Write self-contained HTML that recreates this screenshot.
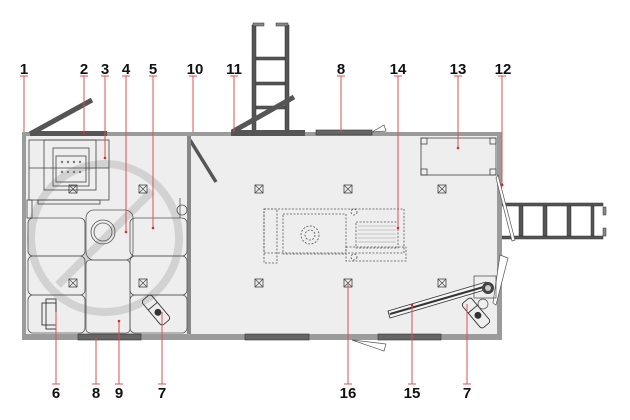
<!DOCTYPE html>
<html><head><meta charset="utf-8"><style>
html,body{margin:0;padding:0;background:#fff;}
svg{display:block}
text{font-family:"Liberation Sans",sans-serif;font-weight:bold;font-size:15px;fill:#111;text-anchor:middle}
</style></head><body>
<svg width="630" height="420" viewBox="0 0 630 420" xmlns="http://www.w3.org/2000/svg">
<defs>
<g id="bx"><rect x="-4" y="-4" width="8" height="8" fill="none" stroke="#444" stroke-width="0.8"/><path d="M-4-4L4 4M4-4L-4 4" stroke="#444" stroke-width="0.7"/></g>
</defs>
<g fill="#555" stroke="#333" stroke-width="0.5">
<rect x="252" y="25" width="4" height="107"/><rect x="285" y="25" width="4" height="107"/>
<rect x="256" y="57" width="29" height="3"/><rect x="256" y="82" width="29" height="3"/><rect x="256" y="106" width="29" height="3"/>
<rect x="253" y="23" width="11" height="3" fill="#888"/><rect x="276" y="23" width="12" height="3" fill="#888"/>
</g>
<g fill="#555" stroke="#333" stroke-width="0.5">
<rect x="502" y="203" width="101" height="3"/><rect x="502" y="236" width="101" height="3"/>
<rect x="519" y="206" width="4" height="30"/><rect x="543" y="206" width="4" height="30"/><rect x="567" y="206" width="4" height="30"/><rect x="591" y="206" width="3" height="30"/>
<rect x="603" y="207" width="3" height="8" fill="#888"/><rect x="603" y="228" width="3" height="8" fill="#888"/>
</g>
<rect x="22" y="132" width="480" height="208" fill="#9b9b9b"/>
<rect x="26" y="136" width="471" height="198" fill="#eeeeee"/>
<rect x="30" y="131" width="77" height="5" fill="#555"/>
<rect x="231" y="130" width="74" height="6" fill="#555"/>
<rect x="316" y="130" width="56" height="5" fill="#666" stroke="#333" stroke-width="0.6"/>
<rect x="78" y="334" width="63" height="6" fill="#666" stroke="#333" stroke-width="0.6"/>
<rect x="245" y="334" width="64" height="6" fill="#666" stroke="#333" stroke-width="0.6"/>
<rect x="378" y="334" width="63" height="6" fill="#666" stroke="#333" stroke-width="0.6"/>
<line x1="30" y1="134" x2="92" y2="100" stroke="#555" stroke-width="5"/>
<line x1="232" y1="132" x2="294" y2="97" stroke="#555" stroke-width="5"/>
<line x1="190" y1="140" x2="216" y2="182" stroke="#555" stroke-width="3.5"/>
<path d="M372 132 L384 125 L386 131 Z" fill="#fff" stroke="#555" stroke-width="0.7"/>
<path d="M352 340 L384 351 L386 344 Z" fill="#fff" stroke="#555" stroke-width="0.7"/>
<path d="M498 175 L515 240 L512 241 L496 178Z" fill="#fff" stroke="#555" stroke-width="0.7"/>
<path d="M500 255 L508 258 L496 305 L493 303Z" fill="#fff" stroke="#555" stroke-width="0.7"/>
<rect x="187" y="136" width="4" height="198" fill="#888"/>
<circle cx="105" cy="238" r="74" fill="none" stroke="#d2d2d2" stroke-width="8"/>
<line x1="58" y1="285" x2="152" y2="191" stroke="#d2d2d2" stroke-width="8"/>
<g fill="none" stroke="#444" stroke-width="0.8">
<rect x="29" y="140" width="80" height="60"/>
<rect x="44" y="140" width="52" height="50"/>
<rect x="53" y="148" width="36" height="38"/>
<rect x="56" y="156" width="30" height="26"/>
<line x1="29" y1="168" x2="109" y2="168"/>
<rect x="38" y="200" width="62" height="4"/>
<rect x="27" y="200" width="5" height="18"/>
</g>
<g fill="#777"><circle cx="62" cy="162" r="1.2"/><circle cx="68" cy="162" r="1.2"/><circle cx="74" cy="162" r="1.2"/><circle cx="80" cy="162" r="1.2"/><circle cx="62" cy="172" r="1.2"/><circle cx="68" cy="172" r="1.2"/><circle cx="74" cy="172" r="1.2"/><circle cx="80" cy="172" r="1.2"/></g>
<g fill="none" stroke="#555" stroke-width="0.8">
<rect x="28" y="218" width="57" height="38" rx="5"/>
<rect x="28" y="256" width="57" height="39" rx="5"/>
<rect x="28" y="295" width="57" height="38" rx="5"/>
<rect x="130" y="218" width="57" height="38" rx="5"/>
<rect x="130" y="256" width="57" height="39" rx="5"/>
<rect x="130" y="295" width="57" height="38" rx="5"/>
<rect x="86" y="210" width="47" height="50" rx="8"/>
<rect x="86" y="260" width="44" height="73" rx="4"/>
<circle cx="103" cy="232" r="12"/><circle cx="103" cy="232" r="9"/>
<line x1="180" y1="198" x2="180" y2="218"/>
<circle cx="182" cy="210" r="5"/>
</g>
<g fill="none" stroke="#333" stroke-width="0.9"><rect x="42" y="303" width="14" height="22"/><rect x="46" y="299" width="10" height="30"/></g>
<g transform="translate(156,310) rotate(50)" fill="none" stroke="#333" stroke-width="0.9"><rect x="-16" y="-6" width="32" height="12" rx="3"/><line x1="-5" y1="-6" x2="-5" y2="6"/><circle cx="3" cy="0" r="3" fill="#333"/></g>
<g transform="translate(476,313) rotate(50)" fill="none" stroke="#333" stroke-width="0.9"><rect x="-16" y="-6" width="32" height="12" rx="3"/><line x1="-5" y1="-6" x2="-5" y2="6"/><circle cx="3" cy="0" r="3" fill="#333"/></g>
<use href="#bx" x="73" y="189"/><use href="#bx" x="143" y="189"/><use href="#bx" x="73" y="283"/><use href="#bx" x="143" y="283"/>
<use href="#bx" x="259" y="189"/><use href="#bx" x="348" y="189"/><use href="#bx" x="259" y="283"/><use href="#bx" x="348" y="283"/>
<use href="#bx" x="442" y="189"/><use href="#bx" x="442" y="283"/>
<g fill="none" stroke="#555" stroke-width="0.8" stroke-dasharray="2 1.5">
<rect x="264" y="209" width="140" height="44"/>
<rect x="264" y="209" width="13" height="54"/>
<rect x="283" y="214" width="63" height="40"/>
<rect x="356" y="222" width="42" height="26"/>
<rect x="346" y="247" width="60" height="14"/>
<circle cx="310" cy="235" r="9"/><circle cx="310" cy="235" r="5"/>
<circle cx="354" cy="212" r="3"/><circle cx="354" cy="257" r="3"/>
</g>
<g stroke="#999" stroke-width="0.5"><line x1="358" y1="226" x2="396" y2="226"/><line x1="358" y1="230" x2="396" y2="230"/><line x1="358" y1="234" x2="396" y2="234"/><line x1="358" y1="238" x2="396" y2="238"/><line x1="358" y1="242" x2="396" y2="242"/></g>
<rect x="421" y="138" width="75" height="37" fill="none" stroke="#444" stroke-width="0.8"/>
<g fill="none" stroke="#444" stroke-width="0.8"><rect x="421" y="138" width="6" height="6"/><rect x="490" y="138" width="6" height="6"/><rect x="421" y="169" width="6" height="6"/><rect x="490" y="169" width="6" height="6"/></g>
<path d="M388 311 L486 282 L488 289 L390 318Z" fill="#f5f5f5" stroke="#333" stroke-width="0.9"/>
<line x1="390" y1="314" x2="487" y2="286" stroke="#333" stroke-width="2"/>
<rect x="474" y="276" width="22" height="22" fill="none" stroke="#444" stroke-width="0.7"/>
<circle cx="488" cy="288" r="6" fill="#444"/><circle cx="488" cy="288" r="3" fill="#ccc"/>
<circle cx="483" cy="304" r="5" fill="none" stroke="#444" stroke-width="0.7"/>
<g stroke="#d9534f" stroke-width="1" fill="none">
<path d="M24 76V132M20 76h8"/><path d="M84 76V133M80 76h8"/><path d="M105 76V158M101 76h8"/><path d="M126 76V232M122 76h8"/><path d="M153 76V228M149 76h8"/><path d="M193 76V132M189 76h8"/><path d="M234 76V132M230 76h8"/><path d="M341 76V132M337 76h8"/><path d="M398 76V228M394 76h8"/><path d="M458 76V148M454 76h8"/><path d="M502 76V185M498 76h8"/>
<path d="M56 384V312M52 384h8"/><path d="M96 384V338M92 384h8"/><path d="M119 384V321M115 384h8"/><path d="M162 384V312M158 384h8"/><path d="M348 384V283M344 384h8"/><path d="M412 384V305M408 384h8"/><path d="M467 384V304M463 384h8"/>
</g>
<g fill="#c9302c"><circle cx="84" cy="133" r="1.3"/><circle cx="105" cy="158" r="1.3"/><circle cx="126" cy="232" r="1.3"/><circle cx="153" cy="228" r="1.3"/><circle cx="398" cy="228" r="1.3"/><circle cx="458" cy="148" r="1.3"/><circle cx="502" cy="185" r="1.5"/><circle cx="119" cy="321" r="1.3"/><circle cx="412" cy="305" r="1.3"/></g>
<text x="24" y="74">1</text><text x="84" y="74">2</text><text x="105" y="74">3</text><text x="126" y="74">4</text><text x="153" y="74">5</text><text x="195" y="74">10</text><text x="234" y="74">11</text><text x="341" y="74">8</text><text x="398" y="74">14</text><text x="458" y="74">13</text><text x="503" y="74">12</text>
<text x="56" y="398">6</text><text x="96" y="398">8</text><text x="119" y="398">9</text><text x="162" y="398">7</text><text x="348" y="398">16</text><text x="412" y="398">15</text><text x="467" y="398">7</text>
</svg>
</body></html>
